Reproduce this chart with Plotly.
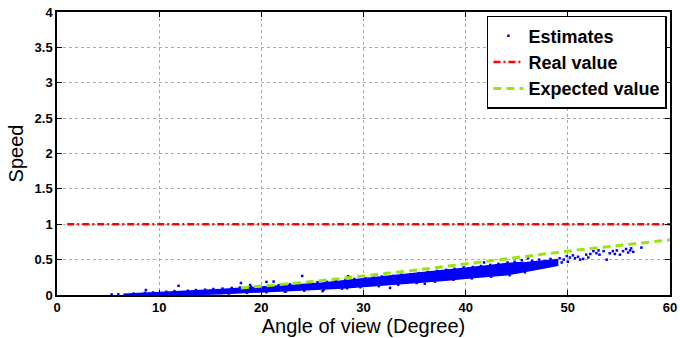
import plotly.graph_objects as go

# Dense core of the estimate cloud: lower / upper envelope per angle
band_x = [6.5, 8, 10, 12, 14, 16, 18, 20, 22, 24, 26, 28, 30, 32, 34, 36, 38, 40, 42, 44, 45, 46, 47, 48, 49]
band_lo = [0.0, 0.0, 0.0, 0.003, 0.01, 0.018, 0.03, 0.042, 0.055, 0.07, 0.085, 0.1, 0.12, 0.14, 0.16,
           0.185, 0.21, 0.235, 0.26, 0.285, 0.31, 0.34, 0.37, 0.39, 0.42]
band_hi = [0.012, 0.02, 0.035, 0.048, 0.062, 0.078, 0.095, 0.11, 0.13, 0.15, 0.17, 0.195, 0.225, 0.25,
           0.28, 0.31, 0.345, 0.38, 0.41, 0.445, 0.455, 0.46, 0.47, 0.485, 0.5]

# Individual estimates (edges, outliers and the sparse tail)
est_x = [7.5, 8.6, 9.4, 10.7, 11.5, 12.8, 13.6, 14.5, 15.3, 16.2, 17.1, 17.9, 19.0, 19.8, 21.0, 21.7,
         22.8, 23.5, 24.6, 25.5, 26.4, 27.3, 28.2, 29.1, 30.2, 31.0, 31.8, 32.9, 33.7, 34.6, 35.4, 36.3,
         37.2, 38.1, 38.9, 39.8, 40.7, 41.5, 42.4, 43.2, 44.1, 44.8,
         8.2, 9.8, 11.3, 13.0, 14.9, 16.8, 18.6, 20.5, 22.4, 24.2, 26.1, 27.9, 29.7, 31.5, 33.4, 35.2,
         37.0, 38.8, 40.6, 42.5, 44.3, 45.8,
         5.35, 6.0, 8.7, 11.9, 18.0, 18.9, 20.5, 21.2, 22.3, 24.0, 26.0, 28.5, 28.4, 32.6, 45.5, 46.1,
         36.0, 41.8,
         46.5, 47.2, 47.8, 48.3, 48.8, 49.2, 49.6, 49.9, 50.2, 50.7, 51.2, 51.5, 51.8, 52.2, 52.5, 52.8,
         53.1, 53.5, 53.8, 54.1, 54.4, 54.8, 55.1, 55.4, 55.7, 56.1, 56.2, 56.4, 57.2, 50.0, 50.5, 51.0,
         52.0, 53.0, 54.6, 55.9, 48.6, 49.4, 47.5]
est_y = [0.02, 0.03, 0.035, 0.045, 0.055, 0.06, 0.07, 0.075, 0.085, 0.09, 0.1, 0.105, 0.115, 0.125, 0.13,
         0.14, 0.15, 0.155, 0.165, 0.18, 0.185, 0.2, 0.21, 0.225, 0.235, 0.245, 0.26, 0.27, 0.285, 0.295,
         0.31, 0.325, 0.34, 0.355, 0.37, 0.39, 0.395, 0.41, 0.425, 0.44, 0.46, 0.47,
         0.003, 0.004, 0.005, 0.008, 0.012, 0.02, 0.03, 0.04, 0.05, 0.062, 0.075, 0.09, 0.11, 0.125,
         0.145, 0.17, 0.19, 0.215, 0.235, 0.26, 0.28, 0.32,
         0.008, 0.01, 0.07, 0.13, 0.17, 0.14, 0.185, 0.19, 0.047, 0.27, 0.055, 0.265, 0.095, 0.1, 0.49,
         0.52, 0.16, 0.46,
         0.48, 0.5, 0.45, 0.51, 0.47, 0.52, 0.5, 0.55, 0.53, 0.52, 0.5, 0.51, 0.57, 0.58, 0.62, 0.59,
         0.57, 0.62, 0.5, 0.59, 0.62, 0.63, 0.57, 0.62, 0.65, 0.63, 0.66, 0.61, 0.67, 0.47, 0.56, 0.54,
         0.53, 0.63, 0.58, 0.6, 0.43, 0.46, 0.42]

# Reference lines
real_x = [1, 60]
real_y = [1, 1]
exp_x = [18, 20, 25, 30, 35, 40, 45, 50, 55, 60]
exp_y = [0.10, 0.125, 0.19, 0.27, 0.35, 0.44, 0.53, 0.62, 0.70, 0.78]

x_ticks = [0, 10, 20, 30, 40, 50, 60]
x_tick_text = ["0", "10", "20", "30", "40", "50", "60"]
y_ticks = [0, 0.5, 1, 1.5, 2, 2.5, 3, 3.5, 4]
y_tick_text = ["0", "0.5", "1", "1.5", "2", "2.5", "3", "3.5", "4"]

BLUE = "rgb(0,0,255)"
FONT = "Liberation Sans, Arial, sans-serif"


def bold(labels):
    return ["<b>%s</b>" % t for t in labels]


fig = go.Figure()

fig.add_trace(go.Scatter(
    x=band_x + band_x[::-1], y=band_lo + band_hi[::-1],
    mode="lines", fill="toself", fillcolor=BLUE,
    line=dict(color=BLUE, width=1.5), showlegend=False, hoverinfo="skip",
))
fig.add_trace(go.Scatter(
    x=est_x, y=est_y, mode="markers", name="Estimates",
    marker=dict(color=BLUE, size=2.5, symbol="square", line=dict(width=0)),
))
fig.add_trace(go.Scatter(
    x=real_x, y=real_y, mode="lines", name="Real value",
    line=dict(color="rgb(255,0,0)", width=2.6, dash="7px,3px,2px,3px"),
))
fig.add_trace(go.Scatter(
    x=exp_x, y=exp_y, mode="lines", name="Expected value", line_shape="spline",
    line=dict(color="rgb(150,230,20)", width=3, dash="8px,5px"),
))

axis_common = dict(
    showline=True, linecolor="black", linewidth=1.5, mirror="ticks",
    ticks="inside", ticklen=5, tickcolor="black", tickwidth=1,
    showgrid=True, gridcolor="rgb(170,170,170)", griddash="dot", gridwidth=1,
    zeroline=False, automargin=False,
    tickfont=dict(family=FONT, size=13, color="black"),
)

fig.update_xaxes(
    range=[0, 60], tickvals=x_ticks, ticktext=bold(x_tick_text),
    title=dict(text="Angle of view (Degree)", font=dict(family=FONT, size=20, color="black"), standoff=4),
    **axis_common,
)
fig.update_yaxes(
    range=[0, 4], tickvals=y_ticks, ticktext=bold(y_tick_text),
    title=dict(text="Speed", font=dict(family=FONT, size=20, color="black"), standoff=6),
    **axis_common,
)

fig.update_layout(
    width=680, height=338,
    margin=dict(l=57, r=10, t=12, b=43),
    paper_bgcolor="white", plot_bgcolor="white",
    legend=dict(
        x=0.995, y=0.986, xanchor="right", yanchor="top",
        bgcolor="white", bordercolor="black", borderwidth=1.5,
        font=dict(family=FONT, size=18, color="black", weight="bold"),
        itemwidth=30, tracegroupgap=0,
    ),
)

fig.write_html("out.html")
